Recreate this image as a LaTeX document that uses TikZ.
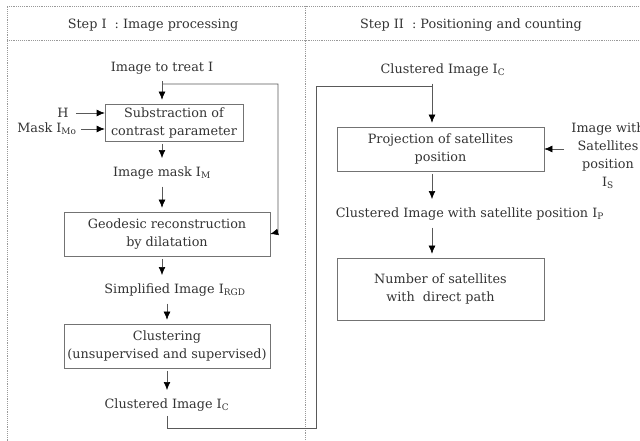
\documentclass[tikz,border=0pt]{standalone}
\usepackage{fontspec}
\setmainfont{DejaVu Serif}
\usetikzlibrary{arrows.meta}

\begin{document}
\begin{tikzpicture}[x=0.75pt,y=-0.75pt,font=\fontsize{9.6}{13.5}\selectfont,text=black!80]

    \tikzset{stepbox/.style={draw=black!55,shape=rectangle,align=center,inner sep=0pt},
             frame/.style={draw=black!40,densely dotted},
             arr/.style={->,>={Latex[length=6pt,width=5pt,color=black]},draw=black!65,shorten <=2pt,shorten >=3pt}}
    \useasboundingbox (0,0) rectangle (640,441);

    \draw[frame] (7,441) -- (7,6) -- (640,6);
    \draw[frame] (7,40) -- (640,40);
    \draw[frame] (305,6) -- (305,441);

    \node (h1) at (153,25) {Step I~ : Image processing};
    \node (h2) at (471,25) {Step II~ : Positioning and counting};

    \node (src) at (162,68) {Image to treat I};
    \node (hh) at (63,113) {H};
    \node (mask) at (47,129) {Mask I$_{\mathrm{Mo}}$};
    \node[stepbox,minimum width=103.5pt,minimum height=27.75pt] (sub) at (174,122.5) {Substraction of\\contrast parameter};
    \node (imask) at (162,173) {Image mask I$_{\mathrm{M}}$};
    \node[stepbox,minimum width=154.5pt,minimum height=33pt] (geo) at (167,234) {Geodesic reconstruction\\by dilatation};
    \node (simp) at (175,290) {Simplified Image I$_{\mathrm{RGD}}$};
    \node[stepbox,minimum width=154.5pt,minimum height=33pt] (clu) at (167,346) {Clustering\\(unsupervised and supervised)};
    \node (cl1) at (167,405) {Clustered Image I$_{\mathrm{C}}$};

    \node (cl2) at (443,70) {Clustered Image I$_{\mathrm{C}}$};
    \node[stepbox,minimum width=155.25pt,minimum height=33pt] (proj) at (440.5,149) {Projection of satellites\\position};
    \node[align=center] (isat) at (608,156) {Image with\\Satellites\\position\\I$_{\mathrm{S}}$};
    \node (pos) at (470,214) {Clustered Image with satellite position I$_{\mathrm{P}}$};
    \node[stepbox,minimum width=155.25pt,minimum height=46.5pt] (num) at (440.5,289) {Number of satellites\\with~ direct path};

    \coordinate (fb) at (162,84);
    \coordinate (fbc) at (278,232);
    \coordinate (lk1) at (316,428);
    \coordinate (lk2) at (432,86);

    \draw[arr] (src) -- (src |- sub.north);
    \draw[arr,shorten >=0pt] (hh) -- (hh -| sub.west);
    \draw[arr,shorten >=0pt,shorten <=0pt] (mask) -- (mask -| sub.west);
    \draw[arr] (sub.south -| src) -- (imask.north -| src);
    \draw[arr] (imask.south -| src) -- (geo.north -| src);
    \draw[arr,shorten <=0pt,shorten >=0pt] (fb) -| (fbc) -- (geo.east);
    \draw[arr] (geo.south -| src) -- (simp.north -| src);
    \draw[arr] (simp.south -| clu) -- (clu.north -| clu);
    \draw[arr] (clu) -- (cl1);
    \draw[draw=black!65] (cl1.south) |- (lk1) |- (lk2);

    \draw[arr] (cl2.south -| lk2) -- (proj.north -| lk2);
    \draw[arr,shorten >=0pt] (isat.west |- proj.east) -- (proj.east);
    \draw[arr] (proj.south -| lk2) -- (pos.north -| lk2);
    \draw[arr] (pos.south -| lk2) -- (num.north -| lk2);
\end{tikzpicture}
\end{document}
